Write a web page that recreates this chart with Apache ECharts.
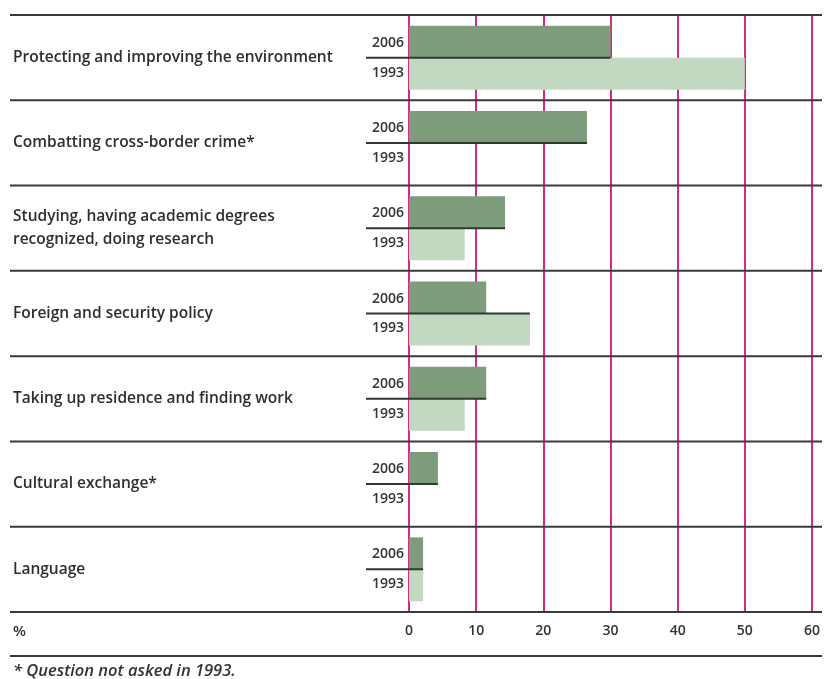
<!DOCTYPE html>
<html>
<head>
<meta charset="utf-8">
<script src="https://cdn.jsdelivr.net/npm/echarts@6/dist/echarts.min.js"></script>
<style>html,body{margin:0;padding:0;background:#fff}#c{width:829px;height:679px}</style>
</head>
<body>
<div id="c"></div>
<script>
const categories = [
  "Protecting and improving the environment",
  "Combatting cross-border crime*",
  "Studying, having academic degrees\nrecognized, doing research",
  "Foreign and security policy",
  "Taking up residence and finding work",
  "Cultural exchange*",
  "Language"
];
const values2006 = [30, 26.5, 14.3, 11.5, 11.5, 4.3, 2.1];
const values1993 = [50, null, 8.3, 18, 8.3, null, 2.1];
const dividerEnds = [30, 26.5, 14.3, 18, 11.5, 4.3, 2.1];
const yearLabels = ["2006", "1993"];
const xTicks = [0, 10, 20, 30, 40, 50, 60];
const footnote = "* Question not asked in 1993.";

const FONT = "'Open Sans', 'DejaVu Sans', sans-serif";
const chart = echarts.init(document.getElementById('c'), null, {renderer: 'canvas'});

const nCat = categories.length;

const option = {
  animation: false,
  backgroundColor: '#fff',
  grid: {left: 409, right: 17, top: 15, bottom: 67, containLabel: false},
  xAxis: {
    type: 'value', min: xTicks[0], max: xTicks[xTicks.length - 1], interval: 10,
    axisLine: {show: false}, axisTick: {show: false},
    splitLine: {show: true, lineStyle: {color: '#d42a86', width: 2}},
    axisLabel: {
      margin: 12, color: '#333', fontFamily: FONT, fontSize: 14, fontWeight: 600,
      formatter: v => xTicks.includes(v) ? String(v) : ''
    }
  },
  yAxis: {
    type: 'category', data: categories, inverse: true,
    axisLine: {show: true, lineStyle: {color: '#d42a86', width: 2}},
    axisTick: {show: false},
    splitLine: {show: false},
    axisLabel: {
      margin: 396, align: 'left', color: '#2e2e2e', fontFamily: FONT, fontSize: 15.5,
      fontWeight: 600, lineHeight: 23
    }
  },
  series: [
    {
      name: yearLabels[0], type: 'bar', data: values2006,
      barGap: 0, barCategoryGap: '25%',
      itemStyle: {color: '#7c9c7c'}, z: 3
    },
    {
      name: yearLabels[1], type: 'bar', data: values1993,
      itemStyle: {color: '#c2d8c1'}, z: 3
    },
    {
      type: 'custom', z: 5, clip: false,
      data: dividerEnds.map((v, i) => [i, v]),
      encode: {x: 1, y: 0},
      renderItem: function (params, api) {
        const idx = api.value(0);
        const end = api.value(1);
        const c = api.coord([0, idx]);
        const e = api.coord([end, idx]);
        const bandH = api.size([0, 1])[1];
        const top = c[1] - bandH / 2;
        const children = [
          {type: 'line', shape: {x1: 10, y1: top, x2: 822, y2: top},
           style: {stroke: '#3a3a3a', lineWidth: 2}},
          {type: 'line', shape: {x1: c[0] - 43, y1: c[1], x2: e[0], y2: c[1]},
           style: {stroke: '#2e3a2e', lineWidth: 2}},
          {type: 'text', x: c[0] - 5, y: c[1] - bandH * 0.175,
           style: {text: yearLabels[0], align: 'right', verticalAlign: 'middle',
                   fill: '#333', font: '600 14px ' + FONT}},
          {type: 'text', x: c[0] - 5, y: c[1] + bandH * 0.175,
           style: {text: yearLabels[1], align: 'right', verticalAlign: 'middle',
                   fill: '#333', font: '600 14px ' + FONT}}
        ];
        if (idx === nCat - 1) {
          const bottom = c[1] + bandH / 2;
          children.push({type: 'line', shape: {x1: 10, y1: bottom, x2: 822, y2: bottom},
            style: {stroke: '#3a3a3a', lineWidth: 2}});
          children.push({type: 'line', shape: {x1: 10, y1: bottom + 44, x2: 822, y2: bottom + 44},
            style: {stroke: '#3a3a3a', lineWidth: 2}});
          children.push({type: 'text', x: 13, y: bottom + 20,
            style: {text: '%', align: 'left', verticalAlign: 'middle',
                    fill: '#333', font: '600 15px ' + FONT}});
          children.push({type: 'text', x: 13, y: bottom + 59,
            style: {text: footnote, align: 'left', verticalAlign: 'middle',
                    fill: '#333', font: 'italic 600 16.5px ' + FONT}});
        }
        return {type: 'group', children: children};
      }
    }
  ]
};
chart.setOption(option);
</script>
</body>
</html>
